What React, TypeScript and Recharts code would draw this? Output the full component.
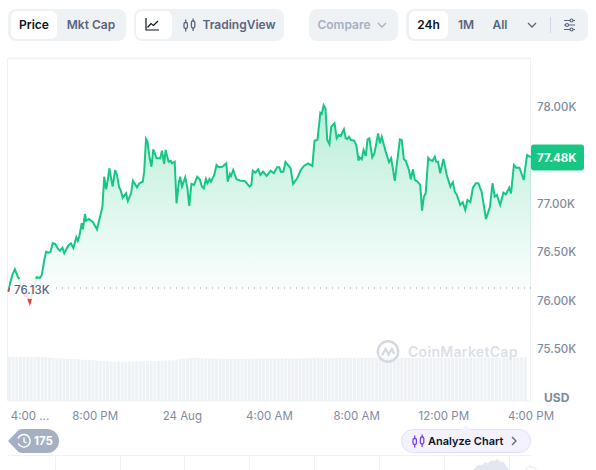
import React from 'react';
import {
  Area,
  AreaChart,
  Bar,
  BarChart,
  CartesianGrid,
  ComposedChart,
  ReferenceLine,
  XAxis,
  YAxis,
} from 'recharts';

// minutes since the 4:00 PM open
const priceTimes = [
  1, 6, 12, 19, 27, 30, 39, 47, 52, 60, 66, 74, 79, 88, 93, 100, 105, 111, 117, 123, 130, 137, 143, 150, 155, 166,
  173, 180, 188, 192, 196, 203, 206, 212, 215, 222, 233, 245, 256, 260, 265, 270, 272, 279, 288, 295, 300, 306, 310,
  316, 325, 330, 339, 344, 355, 362, 371, 375, 380, 384, 390, 395, 400, 409, 419, 424, 430, 434, 442, 448, 452, 459,
  464, 470, 474, 479, 488, 494, 499, 505, 512, 521, 528, 534, 539, 545, 549, 555, 559, 568, 574, 580, 590, 601, 605,
  611, 614, 620, 629, 640, 652, 665, 670, 674, 681, 689, 695, 702, 712, 723, 732, 741, 747, 751, 758, 764, 778, 785,
  796, 806, 815, 826, 838, 844, 852, 860, 864, 869, 874, 879, 885, 890, 899, 905, 911, 916, 925, 930, 934, 939, 944,
  953, 959, 965, 968, 974, 979, 985, 990, 995, 1003, 1009, 1019, 1024, 1029, 1040, 1049, 1055, 1065, 1079, 1084, 1090,
  1095, 1104, 1109, 1115, 1120, 1128, 1135, 1140, 1145, 1150, 1157, 1162, 1169, 1175, 1179, 1184, 1190, 1199, 1208,
  1218, 1221, 1225, 1230, 1236, 1245, 1252, 1259, 1265, 1273, 1280, 1288, 1295, 1304, 1316, 1327, 1334, 1340, 1346,
  1355, 1364, 1371, 1380, 1385, 1393, 1399, 1408, 1420, 1429, 1440,
];

const prices = [
  76092, 76182, 76265, 76323, 76247, 76230, 76110, 76048, 76058, 75975, 76058, 76161, 76241, 76234, 76265, 76420,
  76505, 76495, 76502, 76592, 76585, 76540, 76516, 76547, 76489, 76567, 76592, 76543, 76654, 76619, 76660, 76799,
  76737, 76895, 76825, 76843, 76815, 76737, 76905, 76970, 77280, 77150, 77177, 77367, 77177, 77349, 77298, 77170,
  77143, 77063, 77108, 77029, 77108, 77239, 77170, 77212, 77228, 77332, 77669, 77642, 77470, 77383, 77563, 77470,
  77470, 77549, 77411, 77556, 77435, 77445, 77418, 77435, 77005, 77212, 77280, 77177, 77274, 77160, 76977, 77205,
  77194, 77280, 77253, 77177, 77160, 77256, 77212, 77256, 77228, 77298, 77401, 77377, 77383, 77418, 77228, 77308,
  77287, 77349, 77253, 77239, 77236, 77177, 77194, 77342, 77321, 77356, 77298, 77332, 77287, 77342, 77315, 77377,
  77377, 77332, 77332, 77432, 77367, 77205, 77263, 77349, 77391, 77418, 77391, 77652, 77659, 77941, 77928, 78018,
  77987, 77659, 77615, 77796, 77832, 77677, 77711, 77700, 77770, 77677, 77669, 77693, 77659, 77652, 77607, 77445,
  77480, 77460, 77556, 77494, 77666, 77677, 77480, 77522, 77728, 77625, 77693, 77538, 77429, 77470, 77236, 77666,
  77659, 77460, 77445, 77349, 77253, 77356, 77246, 77228, 77194, 76929, 77073, 77108, 77476, 77453, 77442, 77487,
  77435, 77435, 77315, 77463, 77298, 77177, 77201, 77222, 77125, 77091, 76988, 77016, 76936, 77039, 77016, 77166,
  77212, 77212, 77125, 76843, 76970, 77212, 77073, 77091, 76988, 77115, 77098, 77166, 77108, 77401, 77373, 77373,
  77246, 77504, 77483,
];

// one bar every ten minutes, drawn on its own hidden axis
const volumes = [
  44, 44.2, 43.9, 44.1, 44, 43.8, 44, 44.1, 43.9, 44, 43.7, 43.4, 43.1, 42.8, 42.9, 42.4, 42.2, 41.9, 42, 41.6, 41.4,
  41.2, 41.3, 40.8, 40.4, 40.1, 39.8, 39.6, 39, 39.2, 39.3, 39.1, 39.4, 39.5, 39.3, 39.6, 39.7, 39.8, 40, 40, 39.9,
  40.2, 40.4, 40.3, 40.6, 40.8, 41.4, 42, 42.4, 42.6, 42.9, 43, 42.9, 42.7, 42.6, 42.4, 42.5, 42.3, 42.2, 42.3, 42.1,
  42, 42.2, 42.1, 42, 42.3, 42.2, 42.4, 42.5, 42.4, 42.6, 42.5, 42.4, 42.6, 42.5, 42.7, 42.5, 42.6, 42.4, 42.7, 42.8,
  42.6, 42.8, 42.9, 43, 42.8, 42.7, 42.9, 43, 42.8, 43, 42.9, 43.1, 43, 42.9, 43, 42.8, 43, 43.1, 42.9, 43, 42.8, 43,
  43.1, 42.9, 43.2, 43, 43.1, 42.9, 43, 43.2, 43.1, 43, 43.2, 43.1, 43.3, 43.2, 43, 43.3, 43.1, 43.2, 43.4, 43.3,
  43.2, 43.4, 43.3, 43.5, 43.4, 43.3, 43.5, 43.4, 43.6, 43.5, 43.4, 43.6, 43.5, 43.4, 43.6, 43.5, 43.4, 43.5, 43.6,
  43.5,
];

// the sliver of the navigator chart that peeks in at the bottom
const navigatorValues = [0, 2, 4, 5, 4, 6, 7, 6, 8, 9, 8, 10, 9, 7, 8, 6, 3, 0];

const timeTicks = [0, 240, 480, 720, 960, 1200, 1440];
const timeLabels = ['4:00 ...', '8:00 PM', '24 Aug', '4:00 AM', '8:00 AM', '12:00 PM', '4:00 PM'];
const priceTicks = [75500, 76000, 76500, 77000, 77500, 78000];

const baseline = 76130;
const lastPrice = 77483;

const WIDTH = 596;
const HEIGHT = 470;
const PLOT_TOP = 58;
const PLOT_BOTTOM = 401;
const PRICE_DOMAIN = [74963, 78506];
const font = 'Inter, sans-serif';
const splitAt = (PRICE_DOMAIN[1] - baseline) / (PRICE_DOMAIN[1] - PRICE_DOMAIN[0]);

const priceRows = priceTimes.map((time, i) => ({ time, price: prices[i] }));
const volumeRows = volumes.map((volume, i) => ({ time: 5 + i * 10, volume }));
const navigatorRows = navigatorValues.map((value, i) => ({ i, value }));

function TimeTick({ x, y, payload, index }: any) {
  const shift = index === 0 ? 22 : 0;
  return (
    <text x={x + shift} y={y + 11} textAnchor="middle" fontFamily={font} fontSize={11.5} fill="#808a9d">
      {timeLabels[timeTicks.indexOf(payload.value)]}
    </text>
  );
}

function BaselineLabel({ viewBox }: any) {
  return (
    <g>
      <rect x={viewBox.x + 2} y={viewBox.y - 9} width={46} height={20} rx={10} fill="#fff" fillOpacity={0.85} />
      <text x={viewBox.x + 6} y={viewBox.y + 6} fontFamily={font} fontSize={11.5} fontWeight={500} fill="#58667e">
        76.13K
      </text>
    </g>
  );
}

function LastPriceLabel({ viewBox }: any) {
  const left = viewBox.x + viewBox.width;
  return (
    <g>
      <rect x={left} y={viewBox.y - 12.5} width={53} height={26} rx={3} fill="#16c784" />
      <text x={left + 6} y={viewBox.y + 5} fontFamily={font} fontSize={11.5} fontWeight={700} fill="#fff">
        77.48K
      </text>
    </g>
  );
}

const abs = (left: number, top: number, width: number, height: number): React.CSSProperties => ({
  position: 'absolute',
  left,
  top,
  width,
  height,
});

function Tab({ left, width, text, active, color }: any) {
  return (
    <div
      style={{
        ...abs(left, 11, width, 28),
        lineHeight: '28px',
        textAlign: 'center',
        fontSize: 12,
        fontWeight: 600,
        color: color || (active ? '#0d1421' : '#58667e'),
        background: active ? '#fff' : 'none',
        borderRadius: 6,
      }}
    >
      {text}
    </div>
  );
}

function Chevron({ left, top, color = '#58667e' }: any) {
  return (
    <svg style={abs(left, top, 10, 6)} viewBox="0 0 10 6">
      <path d="M1 1l4 4 4-4" fill="none" stroke={color} strokeWidth={1.3} />
    </svg>
  );
}

function CandleIcon({ left, top, color }: any) {
  return (
    <svg style={abs(left, top, 13, 14)} viewBox="0 0 13 14">
      <g fill="none" stroke={color} strokeWidth={1.3}>
        <rect x={1} y={4.5} width={3.4} height={6} rx={1.4} />
        <rect x={8.4} y={3} width={3.4} height={7} rx={1.4} />
        <path d="M2.7 1.5v3M2.7 10.5v3M10.1 0.5v2.5M10.1 10v3" />
      </g>
    </svg>
  );
}

function Toolbar() {
  return (
    <>
      <div style={{ ...abs(8, 9, 118, 32), background: '#eff2f5', borderRadius: 8 }} />
      <Tab left={11} width={46} text="Price" active />
      <Tab left={57} width={68} text="Mkt Cap" />

      <div style={{ ...abs(134, 9, 150, 32), background: '#eff2f5', borderRadius: 8 }} />
      <div style={{ ...abs(136, 11, 36, 28), background: '#fff', borderRadius: 6 }} />
      <svg style={abs(145, 18, 14, 13)} viewBox="0 0 14 13">
        <path d="M1 0v12h13M2.5 9.5L6 5.5l2.5 2L13 3" fill="none" stroke="#0d1421" strokeWidth={1.2} />
      </svg>
      <CandleIcon left={183} top={18} color="#58667e" />
      <Tab left={200} width={78} text="TradingView" />

      <div style={{ ...abs(309, 9, 89, 32), background: '#eff2f5', borderRadius: 8 }} />
      <Tab left={312} width={64} text="Compare" color="#a6b0c3" />
      <Chevron left={377} top={22} color="#a6b0c3" />

      <div style={{ ...abs(406, 9, 182, 32), background: '#eff2f5', borderRadius: 8 }} />
      <Tab left={409} width={39} text="24h" active />
      <Tab left={451} width={30} text="1M" />
      <Tab left={485} width={30} text="All" />
      <Chevron left={527} top={22} />
      <div style={{ ...abs(550, 17, 1, 16), background: '#cfd6e4' }} />
      <svg style={abs(563, 18, 13, 14)} viewBox="0 0 13 14">
        <g fill="none" stroke="#58667e" strokeWidth={1.1}>
          <path d="M1 2.5h11M1 7h11M1 11.5h11" />
          <circle cx={8.5} cy={2.5} r={1.5} fill="#eff2f5" />
          <circle cx={4} cy={7} r={1.5} fill="#eff2f5" />
          <circle cx={8.5} cy={11.5} r={1.5} fill="#eff2f5" />
        </g>
      </svg>
    </>
  );
}

function Watermark() {
  return (
    <>
      <svg style={abs(376, 340, 24, 23)} viewBox="0 0 24 23">
        <circle cx={12} cy={11.5} r={10.2} fill="none" stroke="#d3d9e2" strokeWidth={2.4} />
        <path d="M6 15.5l3.6-6.5 3 5.5 3.2-5.5 2.4 5" fill="none" stroke="#d3d9e2" strokeWidth={2.4} />
      </svg>
      <div
        style={{
          ...abs(408, 342, 112, 20),
          lineHeight: '20px',
          fontSize: 14,
          fontWeight: 600,
          letterSpacing: 0.3,
          color: '#dbe0e7',
          whiteSpace: 'nowrap',
        }}
      >
        CoinMarketCap
      </div>
    </>
  );
}

function Footer() {
  const dividers = [55, 120, 184, 249, 314, 379, 444, 509];
  return (
    <>
      <div style={{ ...abs(8, 455, 523, 1), background: '#eff2f5' }} />
      {dividers.map((left) => (
        <div key={left} style={{ ...abs(left, 456, 1, 14), background: '#eff2f5' }} />
      ))}
      <div style={abs(473, 456, 36, 14)}>
        <AreaChart width={36} height={14} data={navigatorRows} margin={{ top: 3, right: 0, bottom: 0, left: 0 }}>
          <XAxis dataKey="i" hide />
          <YAxis hide domain={[0, 10]} />
          <Area dataKey="value" stroke="none" fill="#e4e8ee" fillOpacity={1} isAnimationActive={false} />
        </AreaChart>
      </div>
      <div
        style={{
          ...abs(525, 466, 12, 12),
          boxSizing: 'border-box',
          background: '#fff',
          border: '1px solid #e4e8ee',
          borderRadius: 6,
        }}
      />

      <svg style={abs(8, 429, 51, 24)} viewBox="0 0 51 24">
        <path d="M0 12L9 2.5Q11 0 14 0H39a12 12 0 0 1 0 24H14Q11 24 9 21.5Z" fill="#a6b0c3" />
        <g fill="none" stroke="#fff" strokeWidth={1.4}>
          <path d="M10 9.5a6.3 6.3 0 1 1 0.2 5" />
          <path d="M16 8.5v4l2.5 1.5" />
        </g>
      </svg>
      <div
        style={{
          ...abs(34, 429, 24, 24),
          lineHeight: '24px',
          fontSize: 11.5,
          fontWeight: 700,
          color: '#fff',
        }}
      >
        175
      </div>

      <div
        style={{
          ...abs(401, 429, 130, 24),
          boxSizing: 'border-box',
          background: '#f4f2ff',
          border: '1px solid #e3deff',
          borderRadius: 12,
        }}
      />
      <svg style={abs(461, 425, 10, 5)} viewBox="0 0 10 5">
        <path d="M0 5L5 0l5 5" fill="#f4f2ff" />
      </svg>
      <CandleIcon left={412} top={434} color="#7b3ff2" />
      <div
        style={{
          ...abs(428, 429, 80, 24),
          lineHeight: '24px',
          fontSize: 11,
          fontWeight: 600,
          color: '#0d1421',
          whiteSpace: 'nowrap',
        }}
      >
        Analyze Chart
      </div>
      <svg style={abs(511, 436, 6, 10)} viewBox="0 0 6 10">
        <path d="M1 1l4 4-4 4" fill="none" stroke="#58667e" strokeWidth={1.3} />
      </svg>
    </>
  );
}

export default function App() {
  const plotMargin = { top: PLOT_TOP, right: 0, bottom: 0, left: 8 };
  return (
    <div
      style={{
        position: 'absolute',
        left: 0,
        top: 0,
        width: WIDTH,
        height: HEIGHT,
        overflow: 'hidden',
        background: '#fff',
        fontFamily: font,
      }}
    >
      <Toolbar />
      <div
        style={{
          ...abs(7, 58, 524, 343),
          boxSizing: 'border-box',
          borderTop: '1px solid #eff2f5',
          borderLeft: '1px solid #eff2f5',
          borderRight: '1px solid #eff2f5',
        }}
      />
      <div style={abs(0, 0, WIDTH, HEIGHT)}>
        <BarChart
          width={WIDTH}
          height={HEIGHT}
          data={volumeRows}
          margin={{ top: PLOT_TOP, right: 65, bottom: 69, left: 8 }}
        >
          <XAxis dataKey="time" type="number" domain={[0, 1440]} hide />
          <YAxis hide domain={[0, 343]} />
          <Bar dataKey="volume" barSize={3} fill="#eff2f5" isAnimationActive={false} />
        </BarChart>
      </div>
      <div style={abs(0, 0, WIDTH, HEIGHT)}>
        <ComposedChart width={WIDTH} height={HEIGHT} data={priceRows} margin={plotMargin}>
          <defs>
            <linearGradient id="priceFill" gradientUnits="userSpaceOnUse" x1="0" x2="0" y1={PLOT_TOP} y2={PLOT_BOTTOM}>
              <stop offset="0" stopColor="#16c784" stopOpacity={0.38} />
              <stop offset={splitAt} stopColor="#16c784" stopOpacity={0.02} />
              <stop offset={splitAt} stopColor="#ea3943" stopOpacity={0.02} />
              <stop offset="0.75" stopColor="#ea3943" stopOpacity={0.25} />
            </linearGradient>
            <linearGradient id="priceStroke" gradientUnits="userSpaceOnUse" x1="0" x2="0" y1={PLOT_TOP} y2={PLOT_BOTTOM}>
              <stop offset={splitAt} stopColor="#16c784" />
              <stop offset={splitAt} stopColor="#ea3943" />
            </linearGradient>
          </defs>
          <CartesianGrid horizontal vertical={false} stroke="#eff2f5" />
          <XAxis
            dataKey="time"
            type="number"
            domain={[0, 1440]}
            ticks={timeTicks}
            height={69}
            axisLine={false}
            tickLine={false}
            interval={0}
            tick={<TimeTick />}
          />
          <YAxis
            yAxisId="price"
            orientation="right"
            domain={PRICE_DOMAIN}
            ticks={priceTicks}
            width={65}
            axisLine={false}
            tickLine={false}
            tickMargin={0}
            tick={{ fontFamily: font, fontSize: 11.5, fontWeight: 500, fill: '#808a9d' }}
            tickFormatter={(v: number) => (v === 77500 ? '' : (v / 1000).toFixed(2) + 'K')}
          />
          <Area
            yAxisId="price"
            type="linear"
            dataKey="price"
            baseValue={baseline}
            stroke="url(#priceStroke)"
            strokeWidth={2}
            fill="url(#priceFill)"
            fillOpacity={1}
            dot={false}
            activeDot={false}
            isAnimationActive={false}
          />
          <ReferenceLine
            yAxisId="price"
            y={baseline}
            stroke="#8f98a8"
            strokeDasharray="1 5"
            label={<BaselineLabel />}
          />
          <ReferenceLine yAxisId="price" y={lastPrice} stroke="none" label={<LastPriceLabel />} />
        </ComposedChart>
      </div>
      <Watermark />
      <div
        style={{
          ...abs(544, 390, 30, 16),
          lineHeight: '16px',
          fontSize: 12,
          fontWeight: 700,
          color: '#808a9d',
        }}
      >
        USD
      </div>
      <Footer />
    </div>
  );
}
